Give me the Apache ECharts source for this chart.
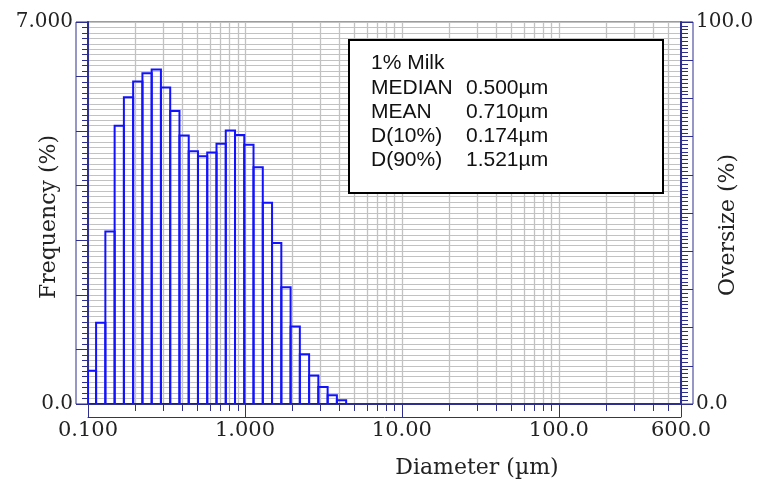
<!DOCTYPE html>
<html><head><meta charset="utf-8">
<script src="https://cdn.jsdelivr.net/npm/echarts@6/dist/echarts.min.js"></script>
<style>html,body{margin:0;padding:0;background:#fff}#c{width:762px;height:483px}</style>
</head><body><div id="c"></div>
<script>
// Bin edges (µm)
const binEdges = [0.100, 0.1126, 0.129, 0.1478, 0.1693, 0.1939, 0.2222, 0.2545, 0.2915, 0.334,
  0.3826, 0.4382, 0.502, 0.575, 0.6588, 0.7546, 0.8644, 0.9902, 1.134, 1.299,
  1.488, 1.705, 1.953, 2.237, 2.563, 2.935, 3.363, 3.852, 4.413];
// Frequency (%) per bin
const freq = [0.61, 1.49, 3.16, 5.10, 5.62, 5.91, 6.06, 6.13, 5.80, 5.37,
  4.92, 4.63, 4.54, 4.61, 4.77, 5.01, 4.93, 4.75, 4.34, 3.69,
  2.95, 2.14, 1.42, 0.91, 0.52, 0.31, 0.16, 0.07];
// Axis ticks
const xMajorTicks = [0.1, 1, 10, 100, 600];
const xTickLabels = ['0.100', '1.000', '10.00', '100.0', '600.0'];
const xMinorTicks = [0.1,0.2,0.3,0.4,0.5,0.6,0.7,0.8,0.9,1,2,3,4,5,6,7,8,9,10,20,30,40,50,60,70,80,90,100,200,300,400,500,600];
const leftTicks = [0, 7];
const leftTickLabels = ['0.0', '7.000'];
const rightTicks = [0, 100];
const rightTickLabels = ['0.0', '100.0'];
// Statistics box
const statNames = ['1% Milk', 'MEDIAN', 'MEAN', 'D(10%)', 'D(90%)'];
const statValues = ['', '0.500µm', '0.710µm', '0.174µm', '1.521µm'];

const NAVY = '#2e2e8f';
const SERIF = 'DejaVu Serif';
const barData = freq.map((v, i) => [binEdges[i], binEdges[i + 1], v]);

function pickLabel(vals, labels, v) {
  let best = 0, bd = Infinity;
  vals.forEach((t, i) => { const d = Math.abs(t - v); if (d < bd) { bd = d; best = i; } });
  return bd < 1e-6 * Math.max(1, Math.abs(v)) + 1e-9 ? labels[best] : '';
}
function pickLogLabel(v) {
  let best = 0, bd = Infinity;
  xMajorTicks.forEach((t, i) => { const d = Math.abs(Math.log10(t) - Math.log10(v)); if (d < bd) { bd = d; best = i; } });
  return bd < 1e-3 ? xTickLabels[best] : '';
}

const chart = echarts.init(document.getElementById('c'), null, {renderer: 'canvas'});
const graphics = [{
  type: 'rect', z: 100, shape: {x: 349, y: 40, width: 314, height: 153},
  style: {fill: '#fff', stroke: '#000', lineWidth: 2}
}, {
  type: 'text', z: 101, x: 477, y: 468,
  style: {text: 'Diameter (µm)', font: '22px "' + SERIF + '"', fill: '#222', align: 'center', verticalAlign: 'middle'}
}];
statNames.forEach((n, i) => {
  graphics.push({type: 'text', z: 101, x: 371, y: 63.5 + 24.3 * i,
    style: {text: n, font: '21px "Liberation Sans"', fill: '#111', verticalAlign: 'middle'}});
  if (statValues[i]) graphics.push({type: 'text', z: 101, x: 466, y: 63.5 + 24.3 * i,
    style: {text: statValues[i], font: '21px "Liberation Sans"', fill: '#111', verticalAlign: 'middle'}});
});

chart.setOption({
  animation: false,
  backgroundColor: '#fff',
  grid: [
    {left: 88, right: 81, top: 22, bottom: 79, show: false, containLabel: false, outerBoundsMode: 'none'},
    {left: 76, right: 69, top: 22, bottom: 79, show: true, borderColor: NAVY, borderWidth: 1, backgroundColor: 'transparent', containLabel: false, outerBoundsMode: 'none'}
  ],
  xAxis: [{
    type: 'log', logBase: 10, min: 0.1, max: 600, gridIndex: 0, position: 'bottom',
    axisLine: {show: true, onZero: false, lineStyle: {color: NAVY, width: 2}},
    axisTick: {show: true, inside: false, length: 7, customValues: xMinorTicks, lineStyle: {color: NAVY, width: 1}},
    splitLine: {show: true, lineStyle: {color: '#c2c2c2', width: 1.3}},
    axisLabel: {show: true, customValues: xMajorTicks, margin: 16, formatter: v => pickLogLabel(v),
      fontFamily: SERIF, fontSize: 21, color: '#222', showMinLabel: true, showMaxLabel: true, hideOverlap: false}
  }, {
    type: 'log', logBase: 10, min: 0.1, max: 600, gridIndex: 0, position: 'bottom',
    axisLine: {show: false, onZero: false},
    axisTick: {show: true, inside: false, length: 13, customValues: xMajorTicks, lineStyle: {color: NAVY, width: 1}},
    splitLine: {show: false}, axisLabel: {show: false}
  }, {
    type: 'log', logBase: 10, min: 0.1, max: 600, gridIndex: 0, position: 'bottom', offset: 13,
    axisLine: {show: true, onZero: false, lineStyle: {color: NAVY, width: 1}},
    axisTick: {show: false}, splitLine: {show: false}, axisLabel: {show: false}
  }, {
    type: 'value', gridIndex: 1, show: false, min: 0, max: 1
  }],
  yAxis: [{
    type: 'value', min: 0, max: 7, interval: 1, gridIndex: 0, position: 'left',
    name: 'Frequency (%)', nameLocation: 'middle', nameGap: 28, nameRotate: 90, nameMoveOverlap: false,
    nameTextStyle: {fontFamily: SERIF, fontSize: 22, color: '#222', padding: [0, 0, 0, -8]},
    axisLine: {show: true, lineStyle: {color: NAVY, width: 2}},
    axisTick: {show: true, inside: false, length: 12, lineStyle: {color: NAVY, width: 1}},
    minorTick: {show: true, splitNumber: 10, length: 6, lineStyle: {color: NAVY, width: 1}},
    splitLine: {show: true, lineStyle: {color: '#c2c2c2', width: 1.2}},
    minorSplitLine: {show: true, lineStyle: {color: '#c2c2c2', width: 1.2}},
    axisLabel: {show: true, customValues: leftTicks, margin: 15, formatter: v => pickLabel(leftTicks, leftTickLabels, v),
      fontFamily: SERIF, fontSize: 20, color: '#222', showMinLabel: true, showMaxLabel: true}
  }, {
    type: 'value', min: 0, max: 100, interval: 10, gridIndex: 0, position: 'right',
    name: 'Oversize (%)', nameLocation: 'middle', nameGap: 36, nameRotate: 90, nameMoveOverlap: false,
    nameTextStyle: {fontFamily: SERIF, fontSize: 22, color: '#222', padding: [0, 0, 0, -24]},
    axisLine: {show: true, lineStyle: {color: NAVY, width: 2}},
    axisTick: {show: true, inside: false, length: 12, lineStyle: {color: NAVY, width: 1}},
    minorTick: {show: true, splitNumber: 10, length: 7, lineStyle: {color: NAVY, width: 1}},
    splitLine: {show: false},
    axisLabel: {show: true, customValues: rightTicks, margin: 15, formatter: v => pickLabel(rightTicks, rightTickLabels, v),
      fontFamily: SERIF, fontSize: 20, color: '#222', showMinLabel: true, showMaxLabel: true}
  }, {
    type: 'value', gridIndex: 1, show: false, min: 0, max: 1
  }],
  graphic: graphics,
  series: [{
    type: 'custom', xAxisIndex: 0, yAxisIndex: 0, clip: true, z: 5,
    data: barData,
    renderItem: function (params, api) {
      const p0 = api.coord([api.value(0), api.value(2)]);
      const p1 = api.coord([api.value(1), 0]);
      return {
        type: 'rect',
        shape: {x: p0[0], y: p0[1], width: p1[0] - p0[0], height: p1[1] - p0[1]},
        style: {fill: 'none', stroke: '#1212ff', lineWidth: 2}
      };
    }
  }]
});
</script>
</body></html>
